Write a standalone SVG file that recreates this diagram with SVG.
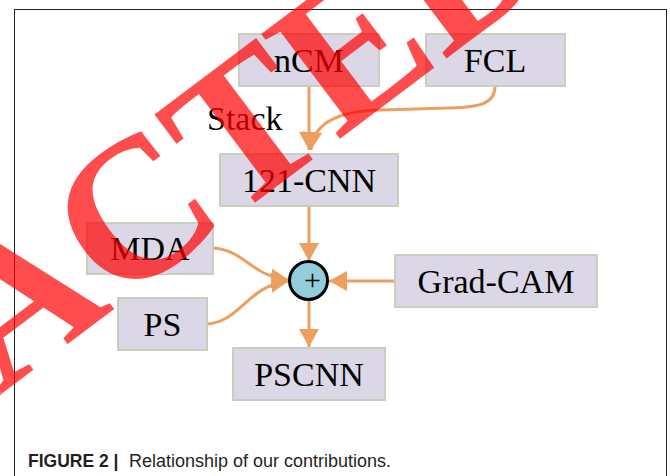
<svg xmlns="http://www.w3.org/2000/svg" width="670" height="476" viewBox="0 0 670 476">
<style>
.box{fill:#dcd7e6;stroke:#c9cfbf;stroke-width:2}
.lbl{font-family:"Liberation Serif","Times New Roman",serif;font-size:34px;fill:#000;text-anchor:middle}
.edge{fill:none;stroke:#ec9f5e;stroke-width:3}
.cap{font-family:"Liberation Sans",Arial,sans-serif;font-size:17.5px;fill:#231f20}
</style>
<defs>
<marker id="ah" viewBox="0 0 18 20" refX="18" refY="10" markerWidth="18" markerHeight="20" markerUnits="userSpaceOnUse" orient="auto">
<path d="M0,0 L18,10 L0,20 z" fill="#ec9f5e"/>
</marker>
</defs>
<rect width="670" height="476" fill="#fff"/>
<rect x="14.5" y="9.5" width="652" height="500" fill="none" stroke="#222" stroke-width="1"/>
<g id="connectors">
<path class="edge" d="M309,86 L309,150" marker-end="url(#ah)"/>
<path class="edge" d="M495,86 C495,104 480,107 450,108 L380,110 C340,111 313,122 311,150" marker-end="url(#ah)"/>
<path class="edge" d="M309,206 L309,261" marker-end="url(#ah)"/>
<path class="edge" d="M213,248 C245,250 252,277 289,280" marker-end="url(#ah)"/>
<path class="edge" d="M207,324 C240,322 248,285 289,281" marker-end="url(#ah)"/>
<path class="edge" d="M395,281 L329,281" marker-end="url(#ah)"/>
<path class="edge" d="M309,300 L309,347" marker-end="url(#ah)"/>
</g>
<g id="nCM"><rect class="box" x="239" y="34" width="140" height="52"/><text class="lbl" x="309" y="72">nCM</text></g>
<g id="FCL"><rect class="box" x="426" y="34" width="139" height="52"/><text class="lbl" x="495" y="72">FCL</text></g>
<g id="Stack"><text class="lbl" x="207" y="130" style="text-anchor:start">Stack</text></g>
<g id="CNN121"><rect class="box" x="220" y="154" width="178" height="52"/><text class="lbl" x="309" y="192">121-CNN</text></g>
<g id="MDA"><rect class="box" x="87" y="223" width="126" height="51"/><text class="lbl" x="150" y="260">MDA</text></g>
<g id="PS"><rect class="box" x="118" y="298" width="89" height="52"/><text class="lbl" x="162.5" y="336">PS</text></g>
<g id="GradCAM"><rect class="box" x="395" y="255" width="202" height="52"/><text class="lbl" x="496" y="293">Grad-CAM</text></g>
<g id="PSCNN"><rect class="box" x="233" y="348" width="152" height="52"/><text class="lbl" x="309" y="386">PSCNN</text></g>
<g id="sum"><circle cx="308.5" cy="280.5" r="19" fill="#92cddc" stroke="#000" stroke-width="3"/><text x="312.5" y="289.5" style="font-family:'Liberation Serif',serif;font-size:30px;text-anchor:middle">+</text></g>
<text class="cap" x="28" y="467" font-weight="bold">FIGURE 2 |</text>
<text class="cap" x="129" y="467" textLength="262" lengthAdjust="spacingAndGlyphs">Relationship of our contributions.</text>
<text x="-555.6" y="0" transform="translate(0,395) rotate(-37)" style="font-family:'Liberation Serif','Times New Roman',serif;font-size:200px;font-weight:bold;fill:#ff0000;fill-opacity:0.7">RETRACTED</text>
</svg>
